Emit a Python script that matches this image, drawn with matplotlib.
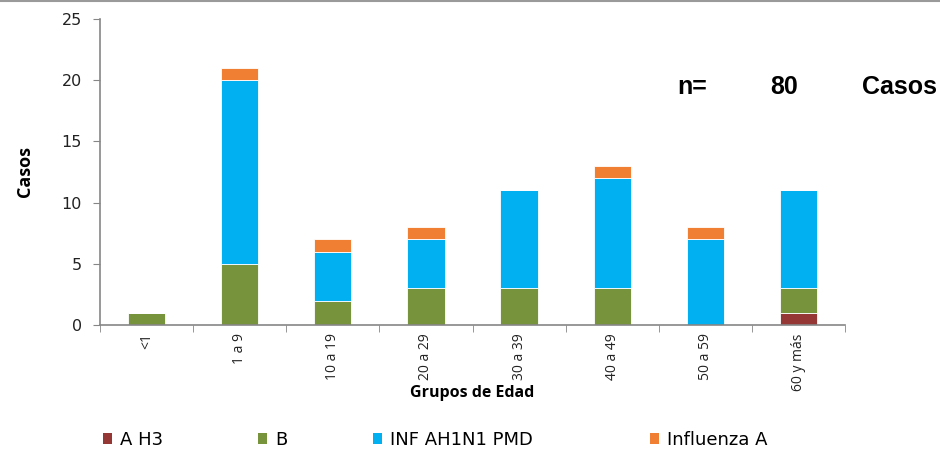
import matplotlib
matplotlib.use("Agg")
import matplotlib.pyplot as plt
import numpy as np
from matplotlib.patches import Patch
from matplotlib.lines import Line2D

categories = ["<1", "1 a 9", "10 a 19", "20 a 29", "30 a 39", "40 a 49", "50 a 59", "60 y más"]
series_names = ["A H3", "B", "INF AH1N1 PMD", "Influenza A"]
a_h3 = [0, 0, 0, 0, 0, 0, 0, 1]
b = [1, 5, 2, 3, 3, 3, 0, 2]
inf_ah1n1 = [0, 15, 4, 4, 8, 9, 7, 8]
influenza_a = [0, 1, 1, 1, 0, 1, 1, 0]
colors = ["#953735", "#77933C", "#00B0F0", "#F07F34"]
yticks = [0, 5, 10, 15, 20, 25]

fig = plt.figure(figsize=(9.4, 4.49), dpi=100)
ax = fig.add_axes([0.1064, 0.276, 0.7926, 0.682])

x = np.arange(len(categories))
bottom = np.zeros(len(categories))
for vals, col in zip([a_h3, b, inf_ah1n1, influenza_a], colors):
    v = np.array(vals, dtype=float)
    ax.bar(x, v, width=0.4, bottom=bottom, color=col, edgecolor="white", linewidth=0.6)
    bottom += v

ax.set_xlim(-0.5, len(categories) - 0.5)
ax.set_ylim(0, 25)
ax.set_yticks(yticks)
ax.set_yticklabels([str(t) for t in yticks], fontsize=11.5, family="DejaVu Sans", color="#222222")
ax.set_xticks(x)
ax.set_xticklabels(categories, rotation=90, fontsize=10, family="Open Sans", color="#222222")
ax.tick_params(axis="x", length=0, pad=6)
ax.set_xticks(np.arange(-0.5, len(categories)), minor=True)
ax.tick_params(axis="x", which="minor", length=5, color="#868686", direction="out")
ax.tick_params(axis="y", length=5, color="#868686", direction="out", pad=8)

for s in ["top", "right"]:
    ax.spines[s].set_visible(False)
for s in ["left", "bottom"]:
    ax.spines[s].set_color("#868686")
    ax.spines[s].set_linewidth(1.2)

ax.set_ylabel("Casos", fontsize=13, fontweight="bold", family="Open Sans", labelpad=20)
fig.text(0.502, 0.124, "Grupos de Edad", fontsize=11.5, fontweight="bold", family="Open Sans",
         ha="center", va="center")

fig.text(0.72, 0.806, "n=", fontsize=18, fontweight="bold", family="Liberation Sans", va="center")
fig.text(0.819, 0.806, "80", fontsize=18, fontweight="bold", family="Liberation Sans", va="center")
fig.text(0.917, 0.806, "Casos", fontsize=18, fontweight="bold", family="Liberation Sans", va="center")

fig.add_artist(Line2D([0, 1], [0.998, 0.998], transform=fig.transFigure, color="#9a9a9a", linewidth=1.5))

legend_x = [0.1095, 0.2745, 0.3965, 0.6915]
for h_col, name, lx in zip(colors, series_names, legend_x):
    fig.legend([Patch(facecolor=h_col, edgecolor="none")], [name], loc="center left",
               bbox_to_anchor=(lx, 0.02), frameon=False, borderpad=0, borderaxespad=0,
               handlelength=0.5, handleheight=0.5, handletextpad=0.45,
               prop={"family": "DejaVu Sans", "size": 13})

fig.savefig("out.png", dpi=100)
